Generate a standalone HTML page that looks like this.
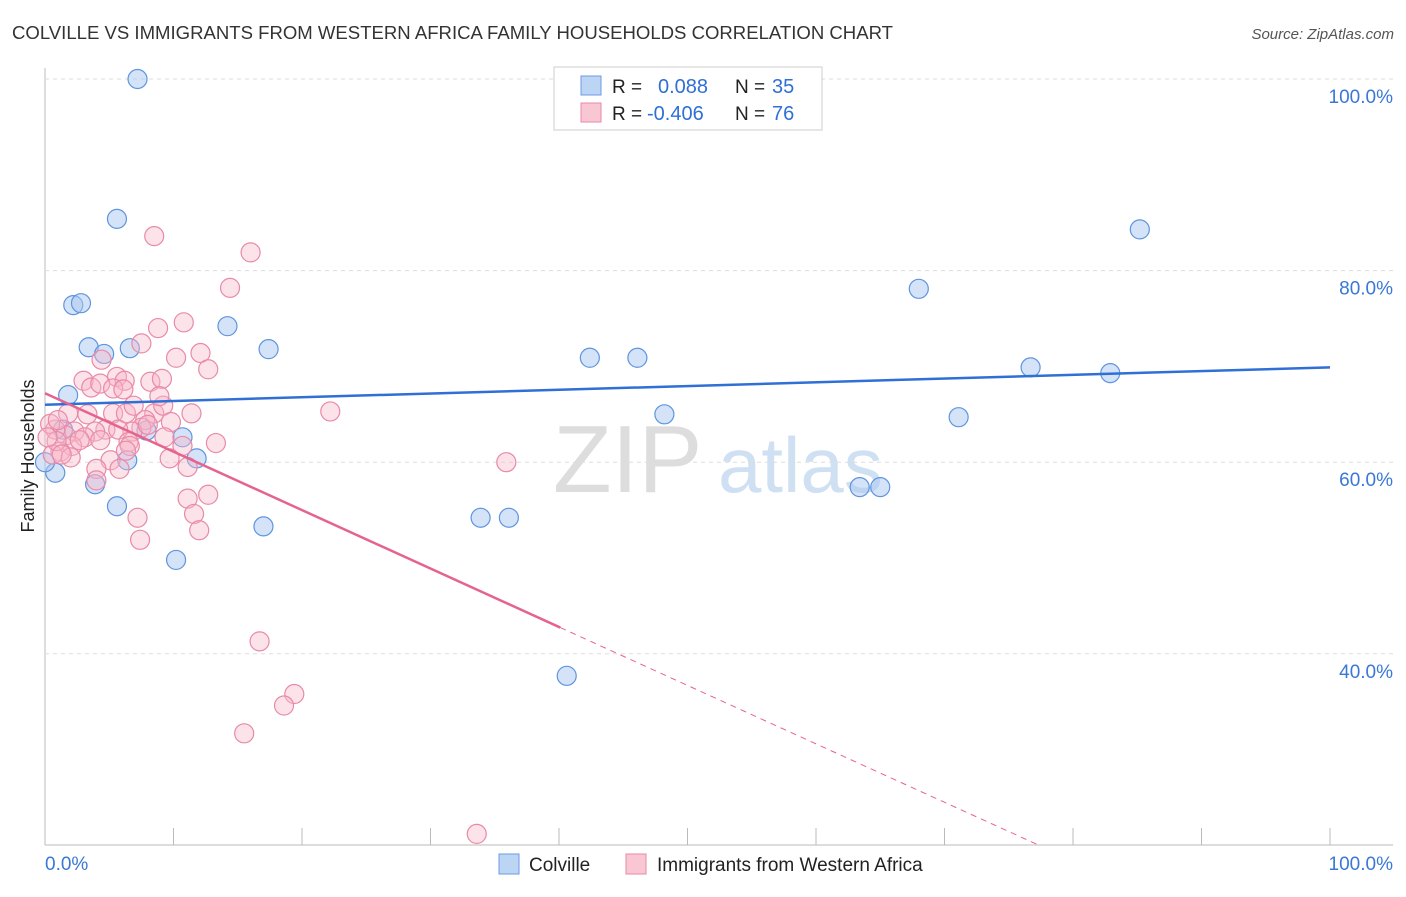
<!DOCTYPE html>
<html><head><meta charset="utf-8"><style>
body{margin:0;background:#fff;font-family:"Liberation Sans",sans-serif}
svg text{font-family:"Liberation Sans",sans-serif}
</style></head><body>
<svg id="c" width="1406" height="892">
<text x="12" y="39" font-size="18" fill="#333" textLength="881" lengthAdjust="spacingAndGlyphs">COLVILLE VS IMMIGRANTS FROM WESTERN AFRICA FAMILY HOUSEHOLDS CORRELATION CHART</text>
<text x="1394" y="39" font-size="15" fill="#555" text-anchor="end" font-style="italic">Source: ZipAtlas.com</text>
<text x="553" y="492" font-size="96" fill="#ddd" font-family="Liberation Serif">ZIP</text>
<text x="718" y="492" font-size="78" fill="#cfe0f3">atlas</text>
<text transform="translate(34,456) rotate(-90)" font-size="18" fill="#222" text-anchor="middle">Family Households</text>
<g id="grid"></g><g id="marks"></g><g id="lines"></g>
<g>
<rect x="554" y="67" width="268" height="63" fill="#fff" stroke="#ccc"/>
<rect x="581" y="76" width="20" height="19" fill="#bcd5f5" stroke="#6a9be0"/>
<rect x="581" y="103" width="20" height="19" fill="#f9c6d4" stroke="#e98aa8"/>
<text x="612" y="93" font-size="19" fill="#222">R =</text><text x="658" y="93" font-size="20" fill="#2f6fd6">0.088</text>
<text x="735" y="93" font-size="19" fill="#222">N =</text><text x="772" y="93" font-size="20" fill="#2f6fd6">35</text>
<text x="612" y="120" font-size="19" fill="#222">R =</text><text x="647" y="120" font-size="20" fill="#2f6fd6">-0.406</text>
<text x="735" y="120" font-size="19" fill="#222">N =</text><text x="772" y="120" font-size="20" fill="#2f6fd6">76</text>
</g>
<g>
<rect x="499" y="854" width="20" height="20" fill="#bcd5f5" stroke="#6a9be0"/>
<text x="529" y="871" font-size="19" fill="#222">Colville</text>
<rect x="626" y="854" width="20" height="20" fill="#f9c6d4" stroke="#e98aa8"/>
<text x="657" y="871" font-size="19" fill="#222">Immigrants from Western Africa</text>
</g>
</svg>
<script>
const yTicks=[40,60,80,100];
const xTickLabels=["0.0%","100.0%"];
const blueX=[7.2,5.6,2.2,2.8,3.4,4.6,6.6,14.2,17.4,1.8,0.8,0,3.9,6.4,5.6,10.7,7.9,11.8,17.0,10.2,42.4,46.1,48.2,33.9,36.1,40.6,63.4,65.0,68.0,71.1,76.7,82.9,85.2,53.5,1.4];
const blueY=[100,85.4,76.4,76.6,72.0,71.3,71.9,74.2,71.8,67.0,58.9,60.0,57.7,60.2,55.4,62.6,63.3,60.4,53.3,49.8,70.9,70.9,65.0,54.2,54.2,37.7,57.4,57.4,78.1,64.7,69.9,69.3,84.3,100,63.4];
const pinkX=[8.5,16.0,14.4,10.8,8.8,7.5,12.1,10.2,12.7,4.4,5.6,6.2,8.2,9.1,3.0,3.6,4.3,5.3,6.1,1.8,3.3,5.3,6.3,8.5,6.9,9.2,8.9,11.4,9.8,7.8,7.5,6.8,4.7,5.7,3.9,2.3,3.1,1.6,0.8,0.4,2.1,1.2,2.0,0.6,0.9,0.2,6.5,9.3,13.3,10.7,9.7,5.1,5.8,4.0,11.1,4.0,11.1,12.7,11.6,7.2,7.4,12.0,22.2,35.9,16.7,19.4,18.6,15.5,33.6,6.6,6.3,1.3,8.0,4.3,2.7,1.0];
const pinkY=[83.6,81.9,78.2,74.6,74.0,72.4,71.4,70.9,69.7,70.7,68.9,68.5,68.4,68.7,68.5,67.8,68.2,67.7,67.6,65.1,65.0,65.1,65.1,65.1,65.9,65.9,66.9,65.1,64.2,64.4,63.6,63.2,63.4,63.4,63.2,63.2,62.6,62.8,63.4,64.0,61.7,61.1,60.5,60.8,62.2,62.6,62.1,62.6,62.0,61.7,60.4,60.2,59.3,59.3,59.5,58.1,56.2,56.6,54.6,54.2,51.9,52.9,65.3,60.0,41.3,35.8,34.6,31.7,21.2,61.7,61.2,60.8,63.9,62.3,62.3,64.4];
const blueLine=[66.0,69.9];
const pinkLine=[67.2,6.2];
const pinkSolidEnd=40.1;
const NS="http://www.w3.org/2000/svg";
const X=v=>45+v*12.85, Y=v=>79+(100-v)*9.58;
function mk(t,a,p){const e=document.createElementNS(NS,t);for(const k in a)e.setAttribute(k,a[k]);p.appendChild(e);return e;}
const grid=document.getElementById('grid');
mk('line',{x1:45,y1:68,x2:45,y2:845,stroke:'#bbb'},grid);
mk('line',{x1:45,y1:845,x2:1393,y2:845,stroke:'#bbb'},grid);
yTicks.forEach(t=>{
 const l=mk('line',{x1:45,y1:Y(t),x2:1393,y2:Y(t),stroke:'#ddd','stroke-dasharray':'4,4'},grid);
 
 
 const tx=mk('text',{x:1393,y:Y(t)+24,'font-size':19,fill:'#3a78d6','text-anchor':'end'},grid);
 tx.textContent=t.toFixed(1)+'%';
 
 
});
for(let i=0;i<=10;i++){mk('line',{x1:X(i*10),y1:828,x2:X(i*10),y2:845,stroke:'#bbb'},grid);}
const t0=mk('text',{x:45,y:870,'font-size':19,fill:'#3a78d6'},grid);t0.textContent=xTickLabels[0];


const t1=mk('text',{x:1393,y:870,'font-size':19,fill:'#3a78d6','text-anchor':'end'},grid);t1.textContent=xTickLabels[1];


const marks=document.getElementById('marks');
blueX.forEach((v,i)=>{const c=mk('circle',{cx:X(v),cy:Y(blueY[i]),r:9.5,fill:'#a9c8f0','fill-opacity':0.5,stroke:'#5f95df','stroke-width':1.2},marks);
 
 });
pinkX.forEach((v,i)=>{const c=mk('circle',{cx:X(v),cy:Y(pinkY[i]),r:9.5,fill:'#f7b6c8','fill-opacity':0.4,stroke:'#e98aa8','stroke-width':1.2},marks);
 
 });
const lines=document.getElementById('lines');
const bl=mk('line',{x1:X(0),y1:Y(blueLine[0]),x2:X(100),y2:Y(blueLine[1]),stroke:'#2f6fd6','stroke-width':2.5},lines);


const py=x=>pinkLine[0]+(pinkLine[1]-pinkLine[0])*x/100;
const ps=mk('line',{x1:X(0),y1:Y(pinkLine[0]),x2:X(pinkSolidEnd),y2:Y(py(pinkSolidEnd)),stroke:'#e5648f','stroke-width':2.5},lines);


const xe=(20-pinkLine[0])/(pinkLine[1]-pinkLine[0])*100;
const pd=mk('line',{x1:X(pinkSolidEnd),y1:Y(py(pinkSolidEnd)),x2:X(xe),y2:Y(20),stroke:'#e5648f','stroke-width':1,'stroke-dasharray':'6,5'},lines);


</script>
</body></html>
